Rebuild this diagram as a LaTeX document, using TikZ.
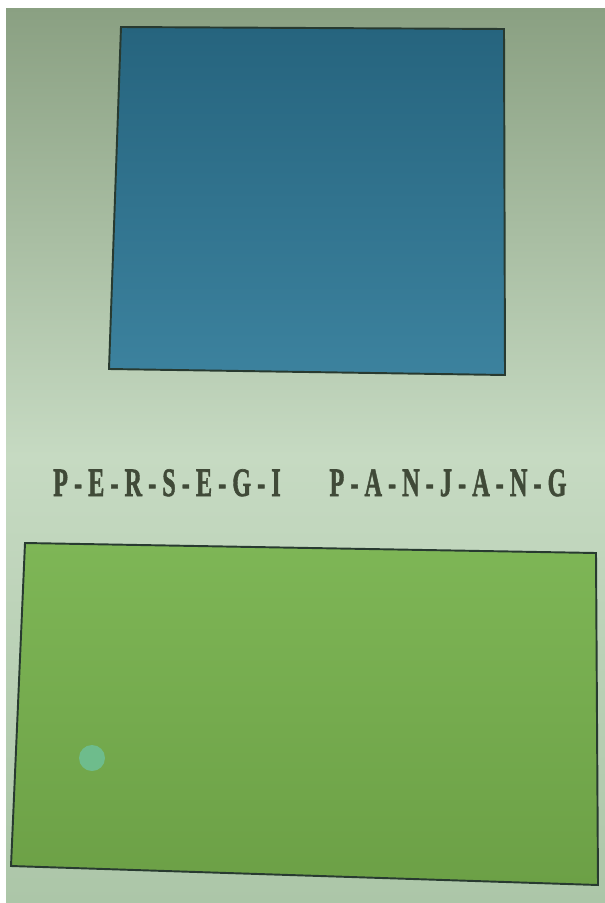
\documentclass[tikz,border=0pt]{standalone}
\usepackage{fontspec}
\setmainfont{Liberation Serif}
\newfontfamily\capfont{Liberation Serif}[BoldFeatures={FakeBold=1.6}]
\definecolor{pagetop}{RGB}{138,160,130}
\definecolor{pagemid}{RGB}{198,218,194}
\definecolor{pagebot}{RGB}{172,198,168}
\definecolor{sqtop}{RGB}{38,100,126}
\definecolor{sqbot}{RGB}{60,130,158}
\definecolor{recttop}{RGB}{126,182,86}
\definecolor{rectbot}{RGB}{108,160,70}
\definecolor{edge}{RGB}{40,58,48}
\definecolor{ink}{RGB}{64,74,56}
\definecolor{blob}{RGB}{110,192,152}
\begin{document}
\begin{tikzpicture}[
  x=0.02cm, y=-0.02cm,
  figure/.style={draw=edge, line width=1.1pt, line join=miter},
  word/.style={font=\capfont\fontsize{23}{23}\selectfont\bfseries, text=ink,
               inner sep=0pt, anchor=base, xscale=0.6},
]
\useasboundingbox (0,0) rectangle (605,903);

%% ── page ──────────────────────────────────────────────────────────
\fill[white] (0,0) rectangle (605,903);
\shade[top color=pagetop, bottom color=pagebot, middle color=pagemid]
  (6,8) rectangle (605,903);

%% ── square (blue) ─────────────────────────────────────────────────
\shade[figure, top color=sqtop, bottom color=sqbot]
  (121,27) coordinate (SQ1) -- (504,29) coordinate (SQ2)
  -- (505,375) coordinate (SQ3) -- (109,369) coordinate (SQ4) -- cycle;

%% ── caption ───────────────────────────────────────────────────────
\node[word] (W1) at (167,496) {P - E - R - S - E - G - I};
\node[word] (W2) at (448,496) {P - A - N - J - A - N - G};

%% ── rectangle (green) ─────────────────────────────────────────────
\shade[figure, top color=recttop, bottom color=rectbot]
  (25,543) coordinate (RC1) -- (596,553) coordinate (RC2)
  -- (598,885) coordinate (RC3) -- (11,866) coordinate (RC4) -- cycle;
\fill[blob, opacity=0.85] (92,758) circle (13);

\end{tikzpicture}
\end{document}
